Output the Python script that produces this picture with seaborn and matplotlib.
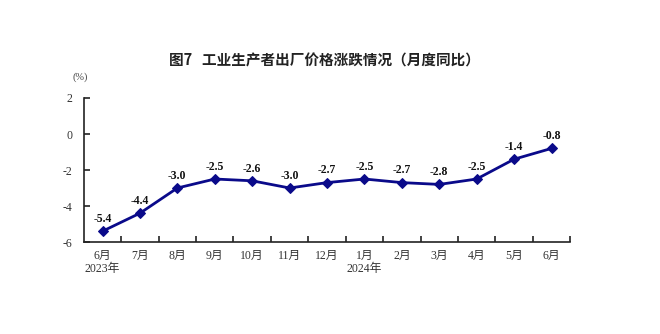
import matplotlib
matplotlib.use("Agg")
import matplotlib.pyplot as plt
import seaborn as sns
import pandas as pd
import numpy as np
from matplotlib.ticker import FixedLocator

months = ["6月\n2023年", "7月", "8月", "9月", "10月", "11月", "12月", "1月\n2024年",
          "2月", "3月", "4月", "5月", "6月"]
values = [-5.4, -4.4, -3.0, -2.5, -2.6, -3.0, -2.7, -2.5, -2.7, -2.8, -2.5, -1.4, -0.8]
yticks = [2, 0, -2, -4, -6]

sns.set_theme(style="white")
plt.rcParams['font.family'] = ['Liberation Serif', 'Noto Sans CJK SC', 'DejaVu Sans']
plt.rcParams['axes.unicode_minus'] = False

df = pd.DataFrame({"idx": np.arange(len(values)), "val": values})

fig = plt.figure(figsize=(6.6, 3.34), dpi=100)
ax = fig.add_axes([0.127, 0.2754, 0.737, 0.4312])
color = "#0a0a8a"
sns.lineplot(data=df, x="idx", y="val", ax=ax, color=color, linewidth=2.0,
             marker="D", markersize=5.5, markeredgecolor=color, markerfacecolor=color)

for i, v in enumerate(values):
    ax.text(i, v + 0.35, f"{v:.1f}", ha="center", va="bottom", fontsize=8.5,
            fontweight="bold", family=['Liberation Serif', 'DejaVu Sans'], color="#111111")

ax.set_xlim(-0.5, len(values) - 0.5)
ax.set_ylim(-6, 2)
ax.set_xlabel("")
ax.set_ylabel("")
ax.set_xticks(np.arange(len(values)))
ax.set_xticklabels(months, fontsize=8.5, color="#333333", linespacing=1.1,
                   family=['Liberation Serif', 'Noto Sans CJK SC'])
ax.xaxis.set_minor_locator(FixedLocator(np.arange(0.5, len(values), 1.0)))
ax.tick_params(axis="x", which="major", length=0, pad=6)
ax.tick_params(axis="x", which="minor", direction="in", length=4, width=1.2, color="#222222", bottom=True)
ax.set_yticks(yticks)
ax.set_yticklabels([str(t) for t in yticks], fontsize=8.5, color="#333333")
ax.tick_params(axis="y", direction="in", length=4, width=1.2, color="#222222", left=True, pad=8)
for s in ["top", "right"]:
    ax.spines[s].set_visible(False)
for s in ["left", "bottom"]:
    ax.spines[s].set_color("#222222")
    ax.spines[s].set_linewidth(1.2)
for lbl in ax.get_xticklabels():
    lbl.set_horizontalalignment("center")

fig.text(0.492, 0.82, "图7   工业生产者出厂价格涨跌情况（月度同比）", ha="center", va="center",
         fontsize=10.5, fontweight="bold", family=['Noto Sans CJK SC', 'DejaVu Sans'], color="#222222")
fig.text(0.122, 0.768, "(%)", ha="center", va="center", fontsize=7.5, color="#444444")

fig.savefig("out.png", dpi=100)
